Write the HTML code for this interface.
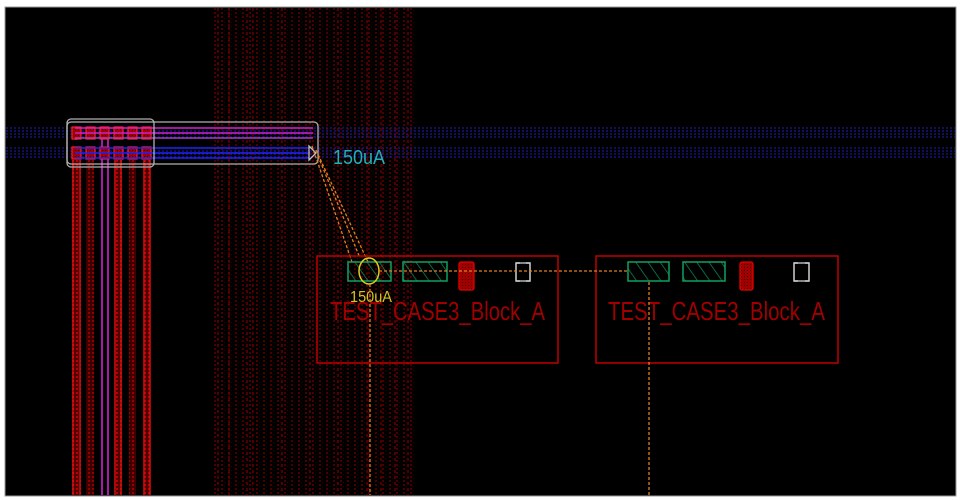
<!DOCTYPE html>
<html><head><meta charset="utf-8">
<style>
html,body{margin:0;padding:0;background:#fff;width:960px;height:500px;overflow:hidden}
svg{display:block}
</style></head>
<body>
<svg width="960" height="500" viewBox="0 0 960 500" xmlns="http://www.w3.org/2000/svg">
<defs>
  <pattern id="vstripe" x="212" y="0" width="7" height="4" patternUnits="userSpaceOnUse">
    <rect x="2" y="0" width="2" height="2" fill="#4a0000"/>
    <rect x="5" y="2" width="1" height="1" fill="#300000"/>
  </pattern>
  <pattern id="hatchG" width="10" height="20" patternUnits="userSpaceOnUse" patternTransform="rotate(-35)">
    <line x1="0" y1="0" x2="0" y2="20" stroke="#0f8a55" stroke-width="1.5"/>
  </pattern>
  <pattern id="redcol" width="4" height="4" patternUnits="userSpaceOnUse">
    <rect width="4" height="4" fill="#500000"/>
    <rect x="0" y="0" width="2" height="2" fill="#c00000"/>
  </pattern>
  <pattern id="redpad" width="3" height="3" patternUnits="userSpaceOnUse">
    <rect width="3" height="3" fill="#a00000"/>
    <rect x="0" y="0" width="1" height="1" fill="#400000"/>
  </pattern>
</defs>

<!-- canvas -->
<rect x="5" y="7" width="951" height="489" fill="#000" stroke="#9a9a9a" stroke-width="1"/>

<!-- vertical dark red stripe field -->
<rect x="212" y="8" width="203" height="487" fill="url(#vstripe)"/>
<g stroke="#620000" stroke-width="1.6" stroke-dasharray="3,3">
  <line x1="218" y1="8" x2="218" y2="495"/>
  <line x1="229" y1="8" x2="229" y2="495"/>
  <line x1="247" y1="8" x2="247" y2="495"/>
  <line x1="253" y1="8" x2="253" y2="495"/>
  <line x1="282" y1="8" x2="282" y2="495"/>
  <line x1="310" y1="8" x2="310" y2="495"/>
  <line x1="338" y1="8" x2="338" y2="495"/>
  <line x1="367" y1="8" x2="367" y2="495"/>
  <line x1="381" y1="8" x2="381" y2="495"/>
  <line x1="395" y1="8" x2="395" y2="495"/>
  <line x1="408" y1="8" x2="408" y2="495"/>
</g>

<!-- horizontal blue dotted bands -->
<g stroke="#1a1a90" stroke-width="1.3" stroke-dasharray="2,2">
  <line x1="6" y1="128" x2="955" y2="128"/>
  <line x1="6" y1="131" x2="955" y2="131"/>
  <line x1="6" y1="134" x2="955" y2="134"/>
  <line x1="6" y1="137" x2="955" y2="137"/>
  <line x1="6" y1="148" x2="955" y2="148"/>
  <line x1="6" y1="151" x2="955" y2="151"/>
  <line x1="6" y1="154" x2="955" y2="154"/>
  <line x1="6" y1="157" x2="955" y2="157"/>
</g>

<!-- left vertical red columns -->
<g>
  <rect x="72" y="160" width="9" height="335" fill="url(#redcol)"/>
  <rect x="86" y="160" width="8" height="335" fill="url(#redcol)" opacity="0.75"/>
  <rect x="114" y="160" width="8" height="335" fill="url(#redcol)"/>
  <rect x="129" y="160" width="7" height="335" fill="url(#redcol)" opacity="0.8"/>
  <rect x="143" y="160" width="8" height="335" fill="url(#redcol)"/>
</g>
<g stroke="#e01010" stroke-width="1.2">
  <line x1="73" y1="160" x2="73" y2="495"/>
  <line x1="80" y1="160" x2="80" y2="495"/>
  <line x1="115" y1="160" x2="115" y2="495"/>
  <line x1="121" y1="160" x2="121" y2="495"/>
  <line x1="144" y1="160" x2="144" y2="495"/>
  <line x1="150" y1="160" x2="150" y2="495"/>
</g>
<g stroke="#d020d0" stroke-width="1.6">
  <line x1="102" y1="130" x2="102" y2="495"/>
  <line x1="108" y1="130" x2="108" y2="495"/>
  <line x1="76" y1="127" x2="76" y2="140"/>
</g>

<!-- pads -->
<g fill="url(#redpad)" stroke="#ff2020" stroke-width="1.2">
  <rect x="72" y="127" width="9" height="12"/>
  <rect x="86" y="127" width="9" height="12"/>
  <rect x="100" y="127" width="9" height="12"/>
  <rect x="114" y="127" width="9" height="12"/>
  <rect x="128" y="127" width="9" height="12"/>
  <rect x="142" y="127" width="9" height="12"/>
  <rect x="72" y="147" width="9" height="12"/>
  <rect x="86" y="147" width="9" height="12"/>
  <rect x="100" y="147" width="9" height="12"/>
  <rect x="114" y="147" width="9" height="12"/>
  <rect x="128" y="147" width="9" height="12"/>
  <rect x="142" y="147" width="9" height="12"/>
</g>

<!-- horizontal magenta / blue wires -->
<g stroke="#d020d0" stroke-width="1.6">
  <line x1="75" y1="128" x2="313" y2="128"/>
  <line x1="75" y1="133" x2="313" y2="133"/>
</g>
<line x1="75" y1="138" x2="313" y2="138" stroke="#a040c0" stroke-width="1.4"/>
<g stroke="#2020ff" stroke-width="1.6">
  <line x1="75" y1="148" x2="309" y2="148"/>
  <line x1="75" y1="153" x2="309" y2="153"/>
  <line x1="75" y1="158" x2="309" y2="158"/>
</g>

<!-- grey outline boxes -->
<rect x="67" y="119" width="87" height="48" rx="4" fill="none" stroke="#b0b0b0" stroke-width="1.3"/>
<rect x="67" y="122" width="251" height="42" rx="4" fill="none" stroke="#b0b0b0" stroke-width="1.3"/>
<path d="M309 146 L309 160 L316 153 Z" fill="none" stroke="#c0c0c0" stroke-width="1.3"/>

<!-- label 150uA cyan -->
<text x="333" y="164" font-family="Liberation Sans, sans-serif" font-size="20" fill="#20b0b8" textLength="52" lengthAdjust="spacingAndGlyphs">150uA</text>

<!-- orange diagonals -->
<g stroke="#e08020" stroke-width="1.3" stroke-dasharray="3,2" fill="none">
  <line x1="312" y1="146" x2="352" y2="262"/>
  <line x1="316" y1="150" x2="368" y2="262"/>
  <line x1="318" y1="156" x2="360" y2="258"/>
</g>

<!-- Block A 1 -->
<rect x="317" y="256" width="241" height="107" fill="none" stroke="#c00000" stroke-width="1.5"/>
<rect x="348" y="262" width="43" height="19" fill="url(#hatchG)" stroke="#10a060" stroke-width="1.5"/>
<rect x="403" y="262" width="44" height="19" fill="url(#hatchG)" stroke="#10a060" stroke-width="1.5"/>
<rect x="459" y="262" width="15" height="28" rx="2" fill="url(#redpad)" stroke="#e00000" stroke-width="1.3"/>
<path d="M520 263 H516 V281 H520 M526 263 H530 V281 H526" fill="none" stroke="#d0d0d0" stroke-width="1.5"/>
<line x1="516" y1="263" x2="530" y2="263" stroke="#d0d0d0" stroke-width="1.3"/>
<line x1="516" y1="281" x2="530" y2="281" stroke="#d0d0d0" stroke-width="1.3"/>
<ellipse cx="369" cy="271" rx="10" ry="13" fill="none" stroke="#d8d020" stroke-width="1.5"/>
<text x="350" y="302" font-family="Liberation Sans, sans-serif" font-size="16" fill="#d0c820" textLength="42" lengthAdjust="spacingAndGlyphs">150uA</text>
<text x="330" y="320" font-family="Liberation Sans, sans-serif" font-size="26" fill="#a00000" textLength="215" lengthAdjust="spacingAndGlyphs">TEST_CASE3_Block_A</text>

<!-- Block A 2 -->
<rect x="596" y="256" width="242" height="107" fill="none" stroke="#c00000" stroke-width="1.5"/>
<rect x="628" y="262" width="41" height="19" fill="url(#hatchG)" stroke="#10a060" stroke-width="1.5"/>
<rect x="683" y="262" width="42" height="19" fill="url(#hatchG)" stroke="#10a060" stroke-width="1.5"/>
<rect x="740" y="262" width="13" height="28" rx="2" fill="url(#redpad)" stroke="#e00000" stroke-width="1.3"/>
<path d="M798 263 H794 V281 H798 M805 263 H809 V281 H805" fill="none" stroke="#d0d0d0" stroke-width="1.5"/>
<line x1="794" y1="263" x2="809" y2="263" stroke="#d0d0d0" stroke-width="1.3"/>
<line x1="794" y1="281" x2="809" y2="281" stroke="#d0d0d0" stroke-width="1.3"/>
<text x="608" y="320" font-family="Liberation Sans, sans-serif" font-size="26" fill="#a00000" textLength="217" lengthAdjust="spacingAndGlyphs">TEST_CASE3_Block_A</text>

<!-- orange connectors -->
<g stroke="#e08020" stroke-width="1.3" stroke-dasharray="3,2" fill="none">
  <line x1="379" y1="271" x2="628" y2="271"/>
  <line x1="370" y1="284" x2="370" y2="495"/>
  <line x1="649" y1="282" x2="649" y2="495"/>
</g>
</svg>
</body></html>
